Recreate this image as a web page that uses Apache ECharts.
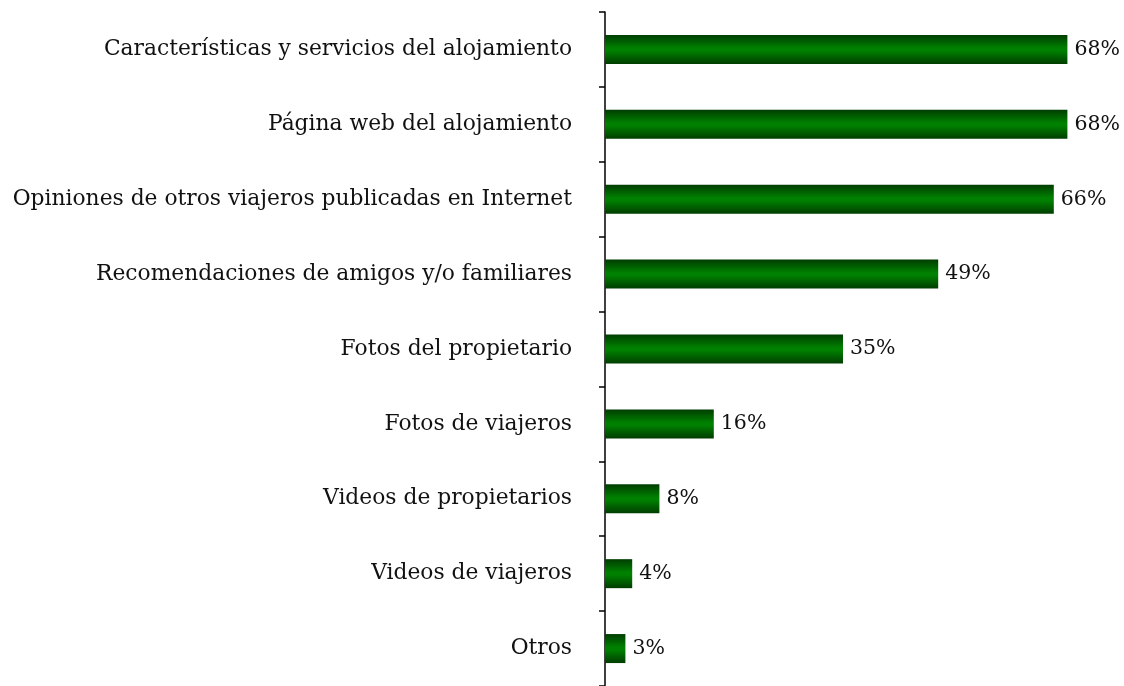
<!DOCTYPE html>
<html>
<head>
<meta charset="utf-8">
<script src="https://cdn.jsdelivr.net/npm/echarts@6/dist/echarts.min.js"></script>
<style>
  html, body { margin: 0; padding: 0; background: #fff; }
  #chart { width: 1124px; height: 686px; }
</style>
</head>
<body>
<div id="chart"></div>
<script>
// categories from top to bottom
var categories = [
  'Características y servicios del alojamiento',
  'Página web del alojamiento',
  'Opiniones de otros viajeros publicadas en Internet',
  'Recomendaciones de amigos y/o familiares',
  'Fotos del propietario',
  'Fotos de viajeros',
  'Videos de propietarios',
  'Videos de viajeros',
  'Otros'
];
var values = [68, 68, 66, 49, 35, 16, 8, 4, 3];

var chart = echarts.init(document.getElementById('chart'));

var font = '"DejaVu Serif", serif';

var option = {
  backgroundColor: '#ffffff',
  animation: false,
  grid: {
    left: 605,
    right: 43,
    top: 12,
    bottom: -1
  },
  xAxis: {
    type: 'value',
    min: 0,
    max: 70,
    show: false
  },
  yAxis: {
    type: 'category',
    inverse: true,
    data: categories,
    axisLine: { show: true, lineStyle: { color: '#000', width: 1.5 } },
    axisTick: { show: true, inside: false, length: 6, lineStyle: { color: '#000', width: 1.5 } },
    axisLabel: {
      margin: 33,
      color: '#111',
      fontFamily: font,
      fontSize: 21.8
    },
    splitLine: { show: false }
  },
  series: [{
    type: 'bar',
    data: values,
    barWidth: 29,
    itemStyle: {
      color: new echarts.graphic.LinearGradient(0, 0, 0, 1, [
        { offset: 0, color: '#003d00' },
        { offset: 0.45, color: '#008000' },
        { offset: 0.55, color: '#008000' },
        { offset: 1, color: '#003d00' }
      ])
    },
    label: {
      show: true,
      position: 'right',
      distance: 7,
      formatter: '{c}%',
      color: '#111',
      fontFamily: font,
      fontSize: 20.5
    }
  }]
};

chart.setOption(option);
</script>
</body>
</html>
